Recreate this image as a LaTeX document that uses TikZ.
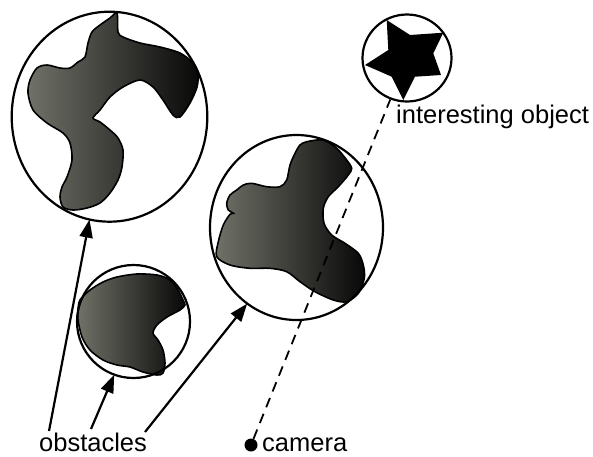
\documentclass[tikz,border=0pt]{standalone}
\usepackage{fontspec}
\setmainfont{Liberation Sans}
\usetikzlibrary{shapes.geometric,arrows.meta}
\definecolor{blobleft}{RGB}{112,114,104}
\definecolor{blobright}{RGB}{8,8,8}
\tikzset{
  blob/.style={draw=black, line width=1.6pt, left color=blobleft, right color=blobright, shading angle=90},
  ring/.style={draw=black, line width=2.2pt, ellipse, inner sep=0pt, fill=none},
  pointer/.style={line width=2.2pt, -{Triangle[length=18pt,width=13pt]}, shorten >=-1pt},
  sight/.style={line width=1.8pt, dash pattern=on 10pt off 7pt},
  lbl/.style={font=\fontsize{25.5}{30}\selectfont, inner sep=0pt}
}
\begin{document}
\begin{tikzpicture}[x=1pt,y=-1pt]
\useasboundingbox (0,0) rectangle (593,456);
% obstacle shapes
\path[blob] plot[smooth cycle, tension=0.5] coordinates {
(117,13) (118,32) (123,37) (140,43) (160,47) (180,53) (193,63) (198,73) (197,87) (190,103) (180,117) (173,115) (163,100) (153,87) (140,80) (123,87) (110,97) (100,110) (93,118) (100,122) (110,130) (118,138) (123,150) (122,167) (118,180) (110,193) (100,203) (87,208) (73,210) (63,207) (60,197) (62,187) (67,177) (72,160) (70,143) (63,133) (47,123) (33,110) (28,93) (30,80) (37,68) (47,65) (60,68) (70,68) (78,62) (85,57) (88,43) (92,32) (100,25) (110,18)};
\path[blob] plot[smooth cycle, tension=0.5] coordinates {
(80,300) (90,290) (103,282) (117,277) (137,274) (157,275) (170,280) (178,290) (183,300) (185,305) (180,310) (167,317) (157,325) (153,333) (158,340) (163,350) (165,363) (163,373) (157,375) (143,372) (130,367) (117,365) (103,360) (90,350) (82,337) (78,320) (78,310)};
\path[blob] plot[smooth cycle, tension=0.5] coordinates {
(306.7,141.7) (323.3,140) (336.7,148.3) (346.7,160) (351.7,168.3) (348.3,175) (338.3,186.7) (328.3,196.7) (323.3,208.3) (324,223.3) (331.7,235) (345,243.3) (358.3,253.3) (363.3,265) (364.3,278.3) (358.3,293.3) (346.7,301.7) (333.3,300) (315,291.7) (300,281.7) (286.7,271.7) (270,268.3) (250,268.3) (230,265) (216.7,256.7) (218.3,241.7) (223.3,225) (230,214.3) (233.3,213.3) (228.3,210) (226.7,203.3) (230,195) (236.7,190) (243.3,185) (251.7,183.3) (266.7,186.7) (280,186.7) (286.7,180) (290,165) (295,153.3) (300,145)};
% star
\fill[black] (386.7,20) -- (410,35) -- (443.3,32.7) -- (433.3,53.3) -- (441,75) -- (415,76.7) -- (403.3,100) -- (391.7,76.7) -- (365,65) -- (388.3,50) -- cycle;
% enclosing circles
\node[ring, minimum width=195.6pt, minimum height=210pt] (c1) at (109.5,116.7) {};
\node[ring, minimum width=113pt, minimum height=113pt] (c2) at (133.5,321.5) {};
\node[ring, minimum width=173pt, minimum height=185pt] (c3) at (296.5,227.5) {};
\node[ring, minimum width=89pt, minimum height=87pt] (c4) at (407,58) {};
% camera
\node[circle, fill=black, minimum size=13pt, inner sep=0pt] (cam) at (251,445) {};
\node[lbl, anchor=base west] (camlbl) at (262,451) {camera};
\node[lbl, anchor=base west] (objlbl) at (396,123) {interesting object};
\node[lbl, anchor=base west] (obslbl) at (39,451) {obstacles};
% sight line
\draw[sight] (cam) -- (c4);
% pointers
\coordinate (o1) at (49,431);
\coordinate (o2) at (91,429);
\coordinate (o3) at (145,432);
\draw[pointer] (o1) -- (c1.259);
\draw[pointer] (o2) -- (c2.250);
\draw[pointer] (o3) -- (c3.237);
\end{tikzpicture}
\end{document}
